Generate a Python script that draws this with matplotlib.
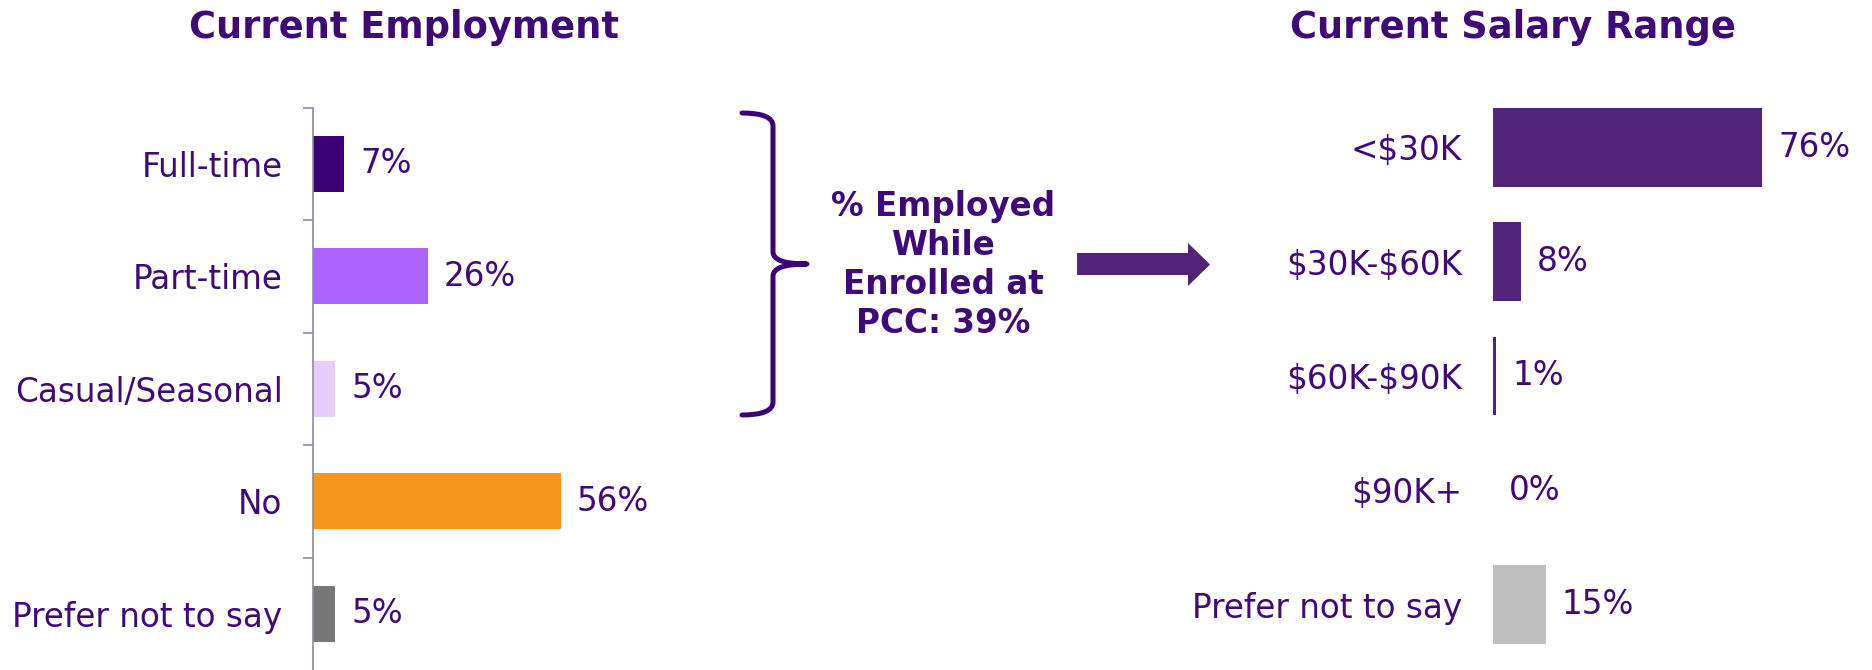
import matplotlib.pyplot as plt
from matplotlib.path import Path
from matplotlib.patches import PathPatch, Polygon

# data
emp_labels = ["Full-time", "Part-time", "Casual/Seasonal", "No", "Prefer not to say"]
emp_values = [7, 26, 5, 56, 5]
emp_colors = ["#3C0077", "#AD63FF", "#E6CCFF", "#F7961C", "#777777"]

sal_labels = ["<\\$30K", "\\$30K-\\$60K", "\\$60K-\\$90K", "\\$90K+", "Prefer not to say"]
sal_values = [76, 8, 1, 0, 15]
sal_colors = ["#51247A", "#51247A", "#51247A", "#51247A", "#BFBFBF"]

employed_text = "% Employed\nWhile\nEnrolled at\nPCC: 39%"

TXT = "#3D0A78"
W, H = 1872, 670
FS = 23.5

fig = plt.figure(figsize=(W / 100, H / 100), dpi=100)

# decoration layer in pixel coords
deco = fig.add_axes([0, 0, 1, 1], zorder=0)
deco.set_xlim(0, W)
deco.set_ylim(H, 0)
deco.axis("off")

# left chart
ax1 = fig.add_axes([313 / W, 0, 442 / W, (H - 107.5) / H], zorder=1)
y1 = range(len(emp_labels))
ax1.barh(y1, emp_values, height=0.5, color=emp_colors)
ax1.set_xlim(0, 100)
ax1.set_ylim(len(emp_labels) - 0.5, -0.5)
ax1.set_yticks(list(y1))
ax1.set_yticklabels(emp_labels)
ax1.set_yticks([i - 0.5 for i in y1], minor=True)
ax1.tick_params(axis="y", which="major", length=0, pad=22, labelsize=FS, labelcolor=TXT)
ax1.tick_params(axis="y", which="minor", length=7.2, width=1.2, color="#8D89A8", direction="out")
ax1.set_xticks([])
for s in ["top", "right", "bottom"]:
    ax1.spines[s].set_visible(False)
ax1.spines["left"].set_color("#8D89A8")
ax1.spines["left"].set_linewidth(1.2)
ax1.patch.set_alpha(0)
for i, v in enumerate(emp_values):
    ax1.annotate(f"{v}%", (v, i), xytext=(11.5, 0), textcoords="offset points",
                 va="center", ha="left", fontsize=FS, color=TXT)

# right chart
ax2 = fig.add_axes([1492.5 / W, 8 / H, 355 / W, 572 / H], zorder=1)
y2 = range(len(sal_labels))
ax2.barh(y2, sal_values, height=0.69, color=sal_colors)
ax2.set_xlim(0, 100)
ax2.set_ylim(len(sal_labels) - 0.5, -0.5)
ax2.set_yticks(list(y2))
ax2.set_yticklabels(sal_labels)
ax2.tick_params(axis="y", length=0, pad=22, labelsize=FS, labelcolor=TXT)
ax2.set_xticks([])
for s in ax2.spines.values():
    s.set_visible(False)
ax2.patch.set_alpha(0)
for i, v in enumerate(sal_values):
    ax2.annotate(f"{v}%", (v, i), xytext=(11.5, 0), textcoords="offset points",
                 va="center", ha="left", fontsize=FS, color=TXT)

# titles
fig.text(404 / W, 1 - 28 / H, "Current Employment", ha="center", va="center",
         fontsize=26.5, fontweight="bold", color=TXT)
fig.text(1513 / W, 1 - 28 / H, "Current Salary Range", ha="center", va="center",
         fontsize=26.5, fontweight="bold", color=TXT)

# brace
verts = [(742, 113), (773, 113), (773, 126),
         (773, 252),
         (773, 264), (807, 264),
         (773, 264), (773, 276),
         (773, 402),
         (773, 415), (742, 415)]
codes = [Path.MOVETO, Path.CURVE3, Path.CURVE3,
         Path.LINETO,
         Path.CURVE3, Path.CURVE3,
         Path.CURVE3, Path.CURVE3,
         Path.LINETO,
         Path.CURVE3, Path.CURVE3]
deco.add_patch(PathPatch(Path(verts, codes), fill=False, lw=3.6, ec="#3C0078",
                         capstyle="round", joinstyle="round"))

deco.text(943, 265, employed_text, ha="center", va="center", fontsize=23.5,
          fontweight="bold", color=TXT, linespacing=1.22)

# arrow
arrow = [(1077, 253), (1188, 253), (1188, 243), (1210, 264.5),
         (1188, 286), (1188, 275), (1077, 275)]
deco.add_patch(Polygon(arrow, closed=True, color="#51247A", lw=0))

fig.savefig("out.png", dpi=100)
